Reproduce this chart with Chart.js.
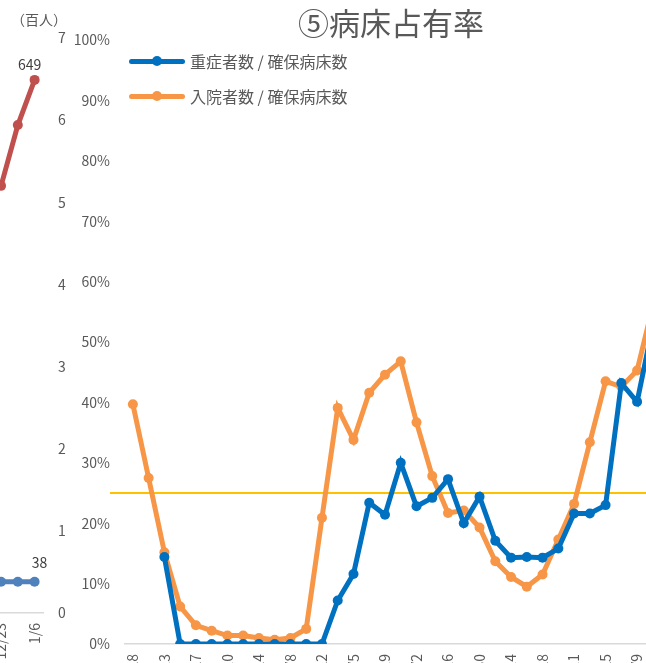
<!DOCTYPE html>
<html lang="ja">
<head>
<meta charset="utf-8">
<script src="https://cdn.jsdelivr.net/npm/chart.js@4.4.1/dist/chart.umd.min.js"></script>
<style>
html,body{margin:0;padding:0;background:#fff;}
body{width:646px;height:663px;overflow:hidden;position:relative;font-family:"Noto Sans CJK JP","Noto Sans",sans-serif;}
#prevChart{position:absolute;left:-30px;top:0;}
#mainChart{position:absolute;left:0;top:0;}
#legend{position:absolute;left:129px;top:52px;}
#legend .item{display:flex;align-items:center;height:18px;margin-bottom:17px;font-size:16px;color:#595959;white-space:nowrap;}
#legend .swatch{position:relative;width:56px;height:5px;border-radius:3px;margin-right:5px;}
#legend .dot{position:absolute;left:23px;top:-2.5px;width:10px;height:10px;border-radius:50%;}
</style>
</head>
<body>
<canvas id="prevChart" width="97" height="663"></canvas>
<canvas id="mainChart" width="727" height="684"></canvas>
<div id="legend"></div>
<script>
document.addEventListener("DOMContentLoaded", function(){
	Chart.defaults.font.family = '"Noto Sans CJK JP", "Noto Sans", sans-serif';
	Chart.defaults.color = '#595959';

	// 左側（前のグラフの右端）
	const prevLabels = ['12/23', '12/30', '1/6'];
	const prevRed = [520, 594, 649];
	const prevBlue = [38, 38, 38];

	// ⑤病床占有率（%） 12/23以降は画面外で読めないので null
	const weekLabels = ['4/28','5/6','5/13','5/20','5/27','6/3','6/10','6/17','6/24','7/1','7/8','7/15',
		'7/22','7/29','8/5','8/12','8/19','8/26','9/2','9/9','9/16','9/23','9/30','10/7','10/14','10/21',
		'10/28','11/4','11/11','11/18','11/25','12/2','12/9','12/16','12/23','12/30','1/6'];
	const severeRate = [null, null, 14.4, 0, 0, 0, 0, 0, 0, 0, 0, 0, 0, 7.2, 11.6, 23.4, 21.4, 30.0,
		22.8, 24.2, 27.3, 20.0, 24.4, 17.1, 14.3, 14.4, 14.3, 15.8, 21.6, 21.6, 23.0, 43.2, 40.1, 52.8,
		null, null, null];
	const inpatientRate = [39.7, 27.5, 15.2, 6.2, 3.1, 2.2, 1.4, 1.4, 1.0, 0.7, 1.0, 2.5, 20.9, 39.1,
		33.8, 41.6, 44.6, 46.8, 36.7, 27.8, 21.7, 22.1, 19.3, 13.7, 11.1, 9.5, 11.5, 17.3, 23.2, 33.4,
		43.5, 42.6, 45.3, 56.0, null, null, null];
	const targetRate = 25;

	//最後の値ラベル
	const lastValueLabels = {
		id: 'lastValueLabels',
		afterDatasetsDraw(chart, args, opts) {
			const ctx = chart.ctx;
			ctx.save();
			ctx.font = '14px "Noto Sans CJK JP"';
			ctx.fillStyle = '#404040';
			ctx.textAlign = 'center';
			ctx.textBaseline = 'middle';
			chart.data.datasets.forEach((ds, i) => {
				const meta = chart.getDatasetMeta(i);
				const pt = meta.data[meta.data.length - 1];
				const off = opts.offsets[i];
				ctx.fillText(String(ds.data[ds.data.length - 1]), pt.x + off[0], pt.y + off[1]);
			});
			ctx.restore();
		}
	};

	const prevCtx = document.getElementById('prevChart').getContext('2d');
	new Chart(prevCtx, {
		type: 'line',
		data: {
			labels: prevLabels,
			datasets: [
				{ data: prevRed, borderColor: '#C0504D', backgroundColor: '#C0504D', borderWidth: 5, pointRadius: 5, pointBorderWidth: 0, clip: false },
				{ data: prevBlue, borderColor: '#4F81BD', backgroundColor: '#4F81BD', borderWidth: 5, pointRadius: 5, pointBorderWidth: 0, clip: false }
			]
		},
		options: {
			responsive: false,
			animation: false,
			layout: { padding: { left: 22.65, right: 0, top: 0, bottom: 0 } },
			plugins: {
				legend: { display: false },
				tooltip: { enabled: false },
				title: {
					display: true,
					text: '（百人）',
					align: 'end',
					font: { size: 14, weight: 'normal' },
					color: '#595959',
					padding: { top: 11.6, bottom: 9.6 }
				},
				lastValueLabels: { offsets: [[-5, -15], [5, -19]] }
			},
			scales: {
				x: {
					offset: true,
					grid: { display: false, drawTicks: false },
					border: { display: true, color: '#D9D9D9', width: 1.5 },
					ticks: { maxRotation: 90, minRotation: 90, padding: 10, font: { size: 14 }, color: '#595959' },
					afterFit(scale) { scale.height = 50; }
				},
				y: {
					position: 'right',
					min: 0,
					max: 700,
					grid: { display: false, drawTicks: false },
					border: { display: false },
					ticks: {
						stepSize: 100,
						padding: 15,
						font: { size: 14 },
						color: '#595959',
						callback: (v) => v / 100
					},
					afterFit(scale) { scale.width = 24; }
				}
			}
		},
		plugins: [lastValueLabels]
	});

	//目安線
	const targetLine = {
		id: 'targetLine',
		beforeDatasetsDraw(chart, args, opts) {
			const ctx = chart.ctx;
			const y = chart.scales.y.getPixelForValue(opts.value);
			ctx.save();
			ctx.strokeStyle = opts.color;
			ctx.lineWidth = 2;
			ctx.beginPath();
			ctx.moveTo(opts.startX, y);
			ctx.lineTo(chart.chartArea.right, y);
			ctx.stroke();
			ctx.restore();
		}
	};

	const mainCtx = document.getElementById('mainChart').getContext('2d');
	const mainChart = new Chart(mainCtx, {
		type: 'line',
		data: {
			labels: weekLabels,
			datasets: [
				{
					label: '重症者数 / 確保病床数',
					data: severeRate,
					borderColor: '#0070C0',
					backgroundColor: '#0070C0',
					borderWidth: 5,
					pointRadius: 5,
					pointBorderWidth: 0
				},
				{
					label: '入院者数 / 確保病床数',
					data: inpatientRate,
					borderColor: '#F79646',
					backgroundColor: '#F79646',
					borderWidth: 5,
					pointRadius: 5,
					pointBorderWidth: 0
				}
			]
		},
		options: {
			responsive: false,
			animation: false,
			layout: { padding: { left: 55, right: 0, top: 0, bottom: 0 } },
			plugins: {
				legend: { display: false },
				tooltip: { enabled: false },
				title: {
					display: true,
					text: '⑤病床占有率',
					font: { size: 31, weight: 'normal', lineHeight: 1.1 },
					color: '#595959',
					padding: { top: 6, bottom: 0 }
				},
				targetLine: { value: targetRate, color: '#FFC000', startX: 110 }
			},
			scales: {
				x: {
					offset: true,
					grid: { display: false, drawTicks: false },
					border: { display: true, color: '#D9D9D9', width: 1.5 },
					ticks: {
						autoSkip: false,
						maxRotation: 90,
						minRotation: 90,
						padding: 10,
						font: { size: 14 },
						color: '#595959',
						callback: function(v, i) { return i % 2 === 0 ? this.getLabelForValue(v) : ''; }
					},
					afterFit(scale) { scale.height = 40; }
				},
				y: {
					min: 0,
					max: 100,
					grid: { display: false, drawTicks: false },
					border: { display: false },
					ticks: {
						stepSize: 10,
						padding: 15,
						font: { size: 14 },
						color: '#595959',
						callback: (v) => v + '%'
					},
					afterFit(scale) { scale.width = 70; }
				}
			}
		},
		plugins: [targetLine]
	});

	//凡例
	const legendBox = document.getElementById('legend');
	mainChart.data.datasets.forEach((ds) => {
		const row = document.createElement('div');
		row.className = 'item';
		const sw = document.createElement('span');
		sw.className = 'swatch';
		sw.style.background = ds.borderColor;
		const dot = document.createElement('span');
		dot.className = 'dot';
		dot.style.background = ds.borderColor;
		sw.appendChild(dot);
		const txt = document.createElement('span');
		txt.textContent = ds.label;
		row.appendChild(sw);
		row.appendChild(txt);
		legendBox.appendChild(row);
	});
});
</script>
</body>
</html>
